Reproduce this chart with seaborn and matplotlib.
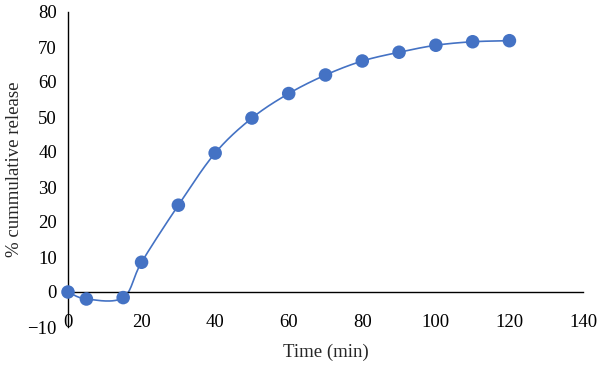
import numpy as np
import pandas as pd
import matplotlib
matplotlib.use("Agg")
import matplotlib.pyplot as plt
import seaborn as sns

time_min = [0, 5, 15, 20, 30, 40, 50, 60, 70, 80, 90, 100, 110, 120]
release = [0, -2.0, -1.6, 8.5, 24.8, 39.7, 49.7, 56.7, 62.0, 66.0, 68.5, 70.5, 71.5, 71.8]
x_ticks = [0, 20, 40, 60, 80, 100, 120, 140]
y_ticks = [-10, 0, 10, 20, 30, 40, 50, 60, 70, 80]

color = "#4472C4"

sns.set_style("white")
plt.rcParams['font.family'] = ['Liberation Serif', 'DejaVu Serif']

# Excel-style smooth line (Catmull-Rom / Bezier through points)
def smooth(xs, ys, n=30):
    xs = np.asarray(xs, float); ys = np.asarray(ys, float)
    px = np.concatenate([[xs[0]], xs, [xs[-1]]])
    py = np.concatenate([[ys[0]], ys, [ys[-1]]])
    ox, oy = [], []
    t = np.linspace(0, 1, n)
    for i in range(1, len(px) - 2):
        p0 = np.array([px[i], py[i]]); p3 = np.array([px[i+1], py[i+1]])
        c1 = p0 + (np.array([px[i+1], py[i+1]]) - np.array([px[i-1], py[i-1]])) / 6
        c2 = p3 - (np.array([px[i+2], py[i+2]]) - np.array([px[i], py[i]])) / 6
        b = ((1-t)**3)[:, None]*p0 + (3*(1-t)**2*t)[:, None]*c1 + (3*(1-t)*t**2)[:, None]*c2 + (t**3)[:, None]*p3
        ox.extend(b[:, 0]); oy.extend(b[:, 1])
    return np.array(ox), np.array(oy)

sx, sy = smooth(time_min, release)
curve = pd.DataFrame({"x": sx, "y": sy})
pts = pd.DataFrame({"Time": time_min, "Release": release})

fig = plt.figure(figsize=(6, 3.66), dpi=100)
ax = fig.add_axes([68/600, 1-327/366, (583-68)/600, (327-12)/366])

sns.lineplot(data=curve, x="x", y="y", ax=ax, color=color, linewidth=1.2, sort=False, estimator=None)
sns.scatterplot(data=pts, x="Time", y="Release", ax=ax, color=color, s=95, edgecolor="none", zorder=5, clip_on=False)

ax.set_xlim(0, 140)
ax.set_ylim(-10, 80)
ax.set_xticks(x_ticks)
ax.set_yticks(y_ticks)
ax.spines['top'].set_visible(False)
ax.spines['right'].set_visible(False)
ax.spines['bottom'].set_position(('data', 0))
for s in ['left', 'bottom']:
    ax.spines[s].set_color('black')
    ax.spines[s].set_linewidth(1.0)
ax.tick_params(axis='x', direction='out', length=4, width=1, pad=12, labelsize=13.5, colors='black')
ax.tick_params(axis='y', direction='out', length=4, width=1, pad=4, labelsize=13.5, colors='black')
ax.set_xlabel("Time (min)", fontsize=13.5, labelpad=9)
ax.set_ylabel("% cummulative release", fontsize=13.5, labelpad=3)

fig.savefig("out.png", dpi=100)
